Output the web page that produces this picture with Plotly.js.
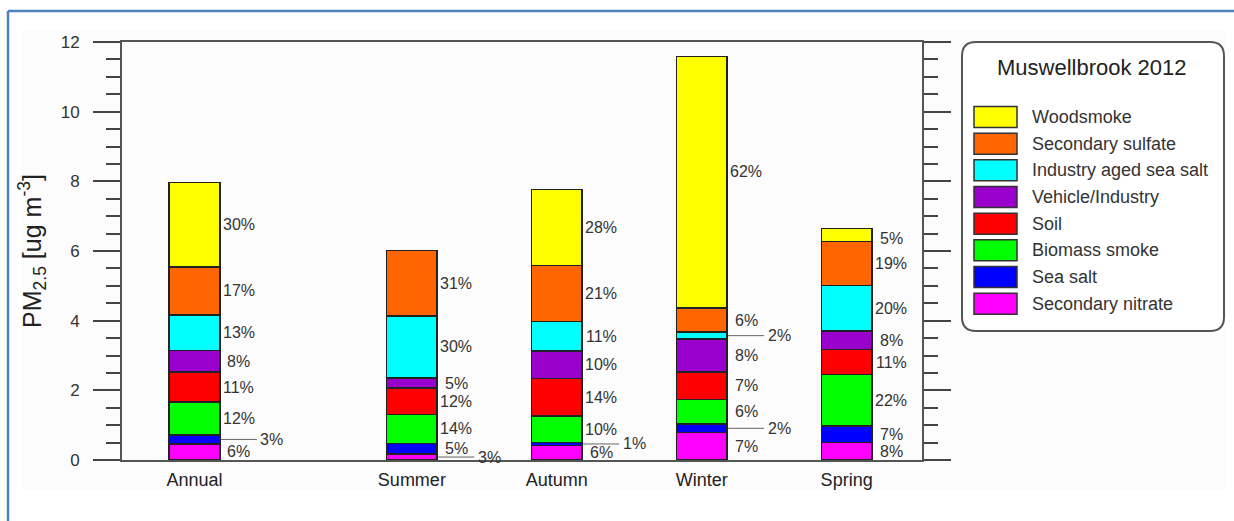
<!DOCTYPE html>
<html>
<head>
<meta charset="utf-8">
<script src="https://cdn.plot.ly/plotly-3.0.1.min.js"></script>
<style>
  html, body { margin: 0; padding: 0; background: #ffffff; }
  #chart { width: 1234px; height: 521px; }
</style>
</head>
<body>
<div id="chart"></div>
<script>
// PM2.5 source apportionment, Muswellbrook 2012 (ug m-3)
const seasons = ['Annual', 'Summer', 'Autumn', 'Winter', 'Spring'];

const sourceNames = [
  'Secondary nitrate', 'Sea salt', 'Biomass smoke', 'Soil',
  'Vehicle/Industry', 'Industry aged sea salt', 'Secondary sulfate', 'Woodsmoke'
];

const secondaryNitrate   = [0.46, 0.17, 0.42, 0.79, 0.50];
const seaSalt            = [0.26, 0.31, 0.08, 0.24, 0.48];
const biomassSmoke       = [0.94, 0.83, 0.76, 0.70, 1.47];
const soil               = [0.86, 0.75, 1.08, 0.80, 0.72];
const vehicleIndustry    = [0.63, 0.29, 0.79, 0.94, 0.53];
const industryAgedSalt   = [1.02, 1.79, 0.84, 0.20, 1.31];
const secondarySulfate   = [1.37, 1.87, 1.62, 0.69, 1.27];
const woodsmoke          = [2.42, null, 2.17, 7.22, 0.36];

const secondaryNitratePct = ['6%', '3%', '6%', '7%', '8%'];
const seaSaltPct          = ['3%', '5%', '1%', '2%', '7%'];
const biomassSmokePct     = ['12%', '14%', '10%', '6%', '22%'];
const soilPct             = ['11%', '12%', '14%', '7%', '11%'];
const vehicleIndustryPct  = ['8%', '5%', '10%', '8%', '8%'];
const industryAgedSaltPct = ['13%', '30%', '11%', '2%', '20%'];
const secondarySulfatePct = ['17%', '31%', '21%', '6%', '19%'];
const woodsmokePct        = ['30%', null, '28%', '62%', '5%'];

const seriesValues = [secondaryNitrate, seaSalt, biomassSmoke, soil,
  vehicleIndustry, industryAgedSalt, secondarySulfate, woodsmoke];
const seriesPct = [secondaryNitratePct, seaSaltPct, biomassSmokePct, soilPct,
  vehicleIndustryPct, industryAgedSaltPct, secondarySulfatePct, woodsmokePct];

const yTicks = [0, 2, 4, 6, 8, 10, 12];

// ---- styling / layout ----
const colours = ['#ff00ff', '#0000ff', '#00ff00', '#ff0000',
  '#9900cc', '#00ffff', '#ff6600', '#ffff00'];
const slotX = [0, 1.5, 2.5, 3.5, 4.5];   // bar centres on the x axis (gap after Annual)
const BAR_W = 0.35;
const W = 1234, H = 521;
const PL = 122, PR = 922, PT = 42, PB = 460;
const fx = px => (px - PL) / (PR - PL);
const fy = py => (PB - py) / (PB - PT);

const FONT = 'Liberation Sans, Arial, sans-serif';
const TEXT = '#333333';

// labels that sit further right with a short leader line: "series|season"
const leadered = new Set(['1|0', '0|1', '1|2', '5|3', '1|3']);
// small vertical nudges (px, positive = up)
const nudge = { '7|3': 11, '7|4': -4 };

const traces = seriesValues.map((vals, i) => ({
  type: 'bar',
  name: sourceNames[i],
  x: slotX,
  y: vals,
  width: BAR_W,
  marker: { color: colours[i], line: { color: '#222222', width: 1.5 } },
  showlegend: false,
  hoverinfo: 'skip'
}));

const annotations = [];
const shapes = [];

// faint backdrop of the figure panel
shapes.push({ type: 'rect', xref: 'paper', yref: 'paper', layer: 'below',
  x0: fx(23), x1: fx(1225), y0: fy(490), y1: fy(30),
  fillcolor: '#fcfcfc', line: { width: 0 } });

// percentage labels at segment mid-points
seasons.forEach((s, j) => {
  let base = 0;
  seriesValues.forEach((vals, i) => {
    const v = vals[j];
    if (v == null) return;
    const mid = base + v / 2;
    base += v;
    const key = i + '|' + j;
    const txt = seriesPct[i][j];
    if (!txt) return;
    const right = slotX[j] + BAR_W / 2;
    const isLead = leadered.has(key);
    annotations.push({
      x: right, y: mid, xref: 'x', yref: 'y',
      xshift: isLead ? 52 : 19, yshift: nudge[key] || 0,
      xanchor: 'center', yanchor: 'middle',
      text: txt, showarrow: false,
      font: { family: FONT, size: 16, color: TEXT }
    });
    if (isLead) {
      shapes.push({ type: 'line', xref: 'x', yref: 'y',
        xsizemode: 'pixel', xanchor: right, x0: 1, x1: 37,
        y0: mid, y1: mid, line: { color: '#666666', width: 1 } });
    }
  });
});

// legend panel
const LX0 = 962, LX1 = 1224, LY0 = 42, LY1 = 331, R = 14;
const path = [
  `M${fx(LX0 + R)},${fy(LY0)}`,
  `L${fx(LX1 - R)},${fy(LY0)}`,
  `Q${fx(LX1)},${fy(LY0)} ${fx(LX1)},${fy(LY0 + R)}`,
  `L${fx(LX1)},${fy(LY1 - R)}`,
  `Q${fx(LX1)},${fy(LY1)} ${fx(LX1 - R)},${fy(LY1)}`,
  `L${fx(LX0 + R)},${fy(LY1)}`,
  `Q${fx(LX0)},${fy(LY1)} ${fx(LX0)},${fy(LY1 - R)}`,
  `L${fx(LX0)},${fy(LY0 + R)}`,
  `Q${fx(LX0)},${fy(LY0)} ${fx(LX0 + R)},${fy(LY0)}`,
  'Z'
].join(' ');
shapes.push({ type: 'path', xref: 'paper', yref: 'paper', path,
  fillcolor: '#ffffff', line: { color: '#555555', width: 2 } });

annotations.push({ xref: 'paper', yref: 'paper', x: fx(1092), y: fy(67),
  xanchor: 'center', yanchor: 'middle', showarrow: false,
  text: 'Muswellbrook 2012', font: { family: FONT, size: 22, color: '#222222' } });

for (let k = 0; k < sourceNames.length; k++) {
  const i = sourceNames.length - 1 - k;   // top of stack listed first
  const cy = 117 + k * 26.67;
  shapes.push({ type: 'rect', xref: 'paper', yref: 'paper',
    x0: fx(974), x1: fx(1017), y0: fy(cy + 10.5), y1: fy(cy - 10.5),
    fillcolor: colours[i], line: { color: '#333333', width: 1.5 } });
  annotations.push({ xref: 'paper', yref: 'paper', x: fx(1030), y: fy(cy),
    xanchor: 'left', yanchor: 'middle', showarrow: false,
    text: sourceNames[i], font: { family: FONT, size: 18, color: TEXT } });
}

// blue frame around the figure
shapes.push({ type: 'line', xref: 'paper', yref: 'paper',
  x0: fx(8), x1: fx(8), y0: fy(11), y1: fy(530), line: { color: '#4f81bd', width: 2.5 } });
shapes.push({ type: 'line', xref: 'paper', yref: 'paper',
  x0: fx(8), x1: fx(1240), y0: fy(11), y1: fy(11), line: { color: '#4f81bd', width: 2.5 } });

const layout = {
  width: W, height: H,
  margin: { l: PL, r: W - PR, t: PT, b: H - PB, pad: 0 },
  paper_bgcolor: '#ffffff',
  plot_bgcolor: 'rgba(0,0,0,0)',
  barmode: 'stack',
  font: { family: FONT, color: TEXT },
  xaxis: {
    range: [-0.5, 5.02],
    tickvals: slotX, ticktext: seasons,
    ticks: '', showgrid: false, zeroline: false,
    showline: true, mirror: true, linecolor: '#555555', linewidth: 2,
    tickfont: { family: FONT, size: 18, color: '#222222' },
    ticklabelstandoff: 2,
    fixedrange: true
  },
  yaxis: {
    range: [0, 12],
    tickvals: yTicks, ticktext: yTicks.map(String),
    ticks: 'outside', ticklen: 27, tickwidth: 2, tickcolor: '#444444',
    minor: { dtick: 0.5, ticks: 'outside', ticklen: 14, tickwidth: 2, tickcolor: '#444444', showgrid: false },
    showgrid: false, zeroline: false,
    showline: true, mirror: 'allticks', linecolor: '#555555', linewidth: 2,
    tickfont: { family: FONT, size: 17, color: '#333333' },
    ticklabelstandoff: 10,
    title: { text: 'PM<sub>2.5</sub> [ug m<sup>-3</sup>]', standoff: 12,
      font: { family: FONT, size: 25, color: '#222222' } },
    fixedrange: true
  },
  shapes, annotations
};

Plotly.newPlot('chart', traces, layout, { displayModeBar: false, staticPlot: true });
</script>
</body>
</html>
